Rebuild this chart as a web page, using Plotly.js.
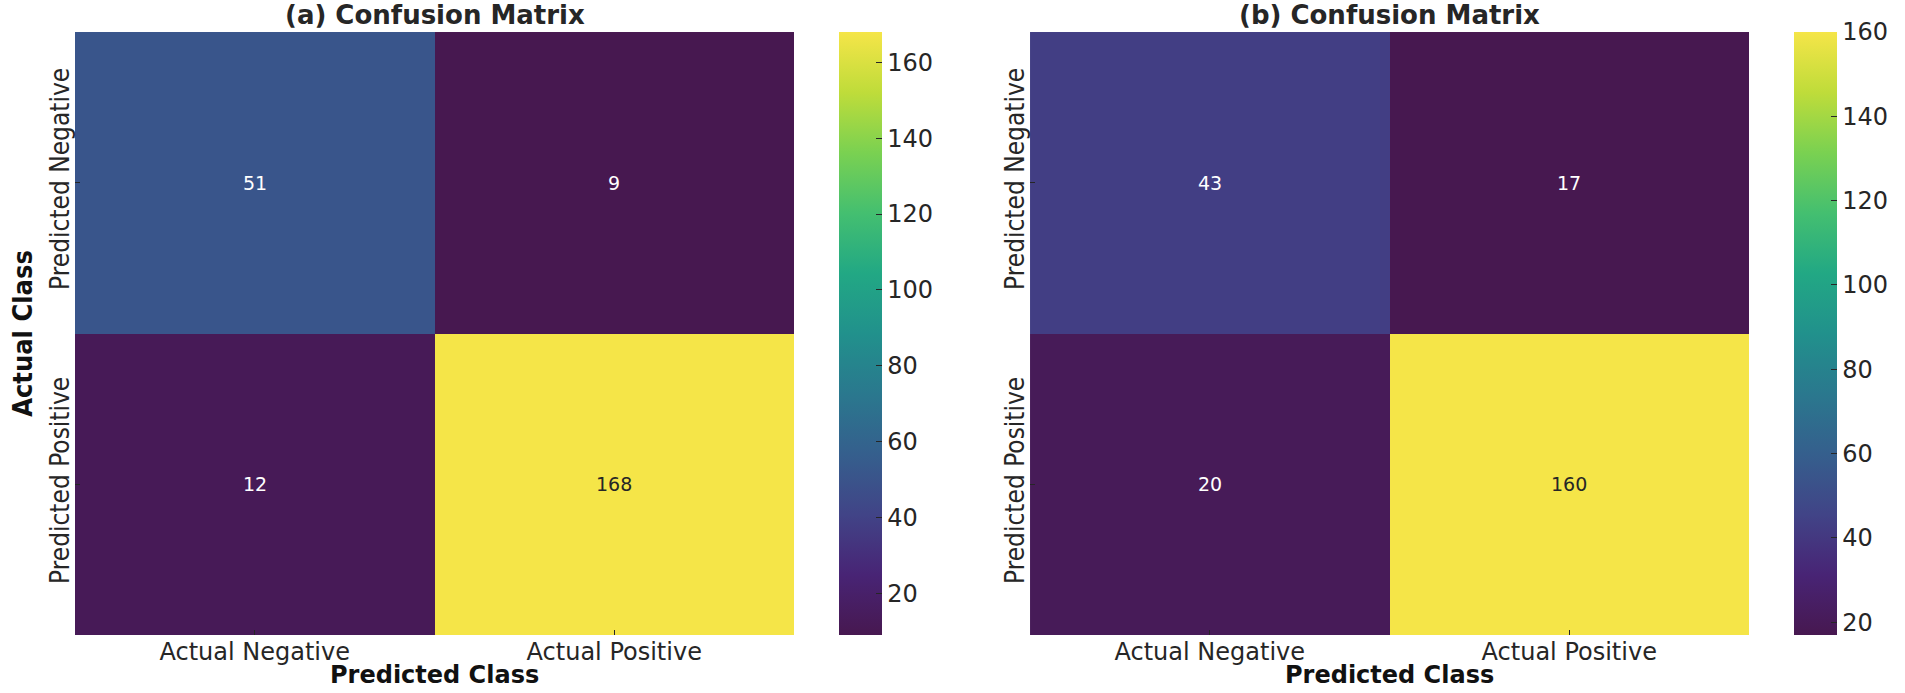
<!DOCTYPE html>
<html>
<head>
<meta charset="utf-8">
<script src="https://cdn.plot.ly/plotly-3.0.1.min.js"></script>
<style>html,body{margin:0;padding:0;background:#fff;}#chart{width:1905px;height:693px;}</style>
</head>
<body>
<div id="chart"></div>
<script>
// Data
const predictedLabels = ["Actual Negative", "Actual Positive"];   // x categories
const actualLabels = ["Predicted Negative", "Predicted Positive"]; // y categories
const matrixA = [[51, 9], [12, 168]];
const matrixB = [[43, 17], [20, 160]];
const titleA = "(a) Confusion Matrix";
const titleB = "(b) Confusion Matrix";
const xTitle = "Predicted Class";
const yTitle = "Actual Class";
const colorbarTicks = [20, 40, 60, 80, 100, 120, 140, 160];

const FONT = "DejaVu Sans, Verdana, sans-serif";
const NARROW = "DejaVu Sans Condensed, Liberation Sans Narrow, DejaVu Sans, sans-serif";

// viridis, slightly toned to the reference picture
const viridis = [
  [0.0, "#471850"], [0.1, "#482475"], [0.2, "#414487"], [0.3, "#355f8d"],
  [0.4, "#2a788e"], [0.5, "#21918c"], [0.6, "#22a884"], [0.7, "#44bf70"],
  [0.8, "#7ad151"], [0.9, "#bfdc3a"], [1.0, "#f5e548"]
];

function flat(m){ return [].concat(...m); }
function minOf(m){ return Math.min(...flat(m)); }
function maxOf(m){ return Math.max(...flat(m)); }

function heat(z, xa, ya, cbx){
  return {
    type: "heatmap",
    z: z, x: predictedLabels, y: actualLabels,
    xaxis: xa, yaxis: ya,
    colorscale: viridis,
    zmin: minOf(z), zmax: maxOf(z),
    hoverinfo: "x+y+z",
    colorbar: {
      x: cbx, xanchor: "left", xref: "paper",
      y: 0.5188, yanchor: "middle",
      len: 0.870, lenmode: "fraction",
      thickness: 43, thicknessmode: "pixels",
      outlinewidth: 0,
      tickvals: colorbarTicks,
      ticks: "inside", ticklen: 6, tickwidth: 1.3, tickcolor: "#262626",
      tickfont: {family: FONT, size: 24, color: "#262626"},
      xpad: 0, ypad: 0
    }
  };
}

function cellAnnotations(z, xa, ya){
  const out = [];
  const mid = (minOf(z) + maxOf(z)) / 2;
  for (let i = 0; i < actualLabels.length; i++){
    for (let j = 0; j < predictedLabels.length; j++){
      out.push({
        x: predictedLabels[j], y: actualLabels[i], xref: xa, yref: ya,
        text: String(z[i][j]), showarrow: false,
        font: {family: FONT, size: 19, color: z[i][j] > mid ? "#262626" : "#ffffff"}
      });
    }
  }
  return out;
}

const data = [
  heat(matrixA, "x", "y", 0.4404),
  heat(matrixB, "x2", "y2", 0.9417)
];

const axisCommon = {
  type: "category",
  showgrid: false, zeroline: false, showline: false,
  ticks: "inside", ticklen: 5, tickwidth: 1.3, tickcolor: "#262626",
  automargin: false
};

const yDomain = [0.0837, 0.9538];
const xDomA = [0.03937, 0.4168];
const xDomB = [0.5407, 0.9181];

const layout = {
  width: 1905, height: 693,
  margin: {l: 0, r: 0, t: 0, b: 0},
  paper_bgcolor: "#ffffff", plot_bgcolor: "#ffffff",
  showlegend: false,
  font: {family: FONT, color: "#262626"},
  xaxis: Object.assign({}, axisCommon, {
    domain: xDomA, anchor: "y",
    tickfont: {family: FONT, size: 24, color: "#262626"}
  }),
  yaxis: Object.assign({}, axisCommon, {
    domain: yDomain, anchor: "x", autorange: "reversed",
    tickangle: -90,
    tickfont: {family: NARROW, size: 26, color: "#262626"},
    title: {text: "<b>" + yTitle + "</b>", font: {family: NARROW, size: 27, color: "#111"}, standoff: 4}
  }),
  xaxis2: Object.assign({}, axisCommon, {
    domain: xDomB, anchor: "y2",
    tickfont: {family: FONT, size: 24, color: "#262626"}
  }),
  yaxis2: Object.assign({}, axisCommon, {
    domain: yDomain, anchor: "x2", autorange: "reversed",
    tickangle: -90,
    tickfont: {family: NARROW, size: 26, color: "#262626"}
  }),
  annotations: [
    {text: "<b>" + titleA + "</b>", xref: "paper", yref: "paper", x: (xDomA[0] + xDomA[1]) / 2, y: 0.978,
     xanchor: "center", yanchor: "middle", showarrow: false, font: {family: FONT, size: 26, color: "#262626"}},
    {text: "<b>" + titleB + "</b>", xref: "paper", yref: "paper", x: (xDomB[0] + xDomB[1]) / 2, y: 0.978,
     xanchor: "center", yanchor: "middle", showarrow: false, font: {family: FONT, size: 26, color: "#262626"}},
    {text: "<b>" + xTitle + "</b>", xref: "paper", yref: "paper", x: (xDomA[0] + xDomA[1]) / 2, y: 0.026,
     xanchor: "center", yanchor: "middle", showarrow: false, font: {family: FONT, size: 24, color: "#111"}},
    {text: "<b>" + xTitle + "</b>", xref: "paper", yref: "paper", x: (xDomB[0] + xDomB[1]) / 2, y: 0.026,
     xanchor: "center", yanchor: "middle", showarrow: false, font: {family: FONT, size: 24, color: "#111"}}
  ].concat(cellAnnotations(matrixA, "x", "y"), cellAnnotations(matrixB, "x2", "y2"))
};

Plotly.newPlot("chart", data, layout, {displayModeBar: false, responsive: false});
</script>
</body>
</html>
